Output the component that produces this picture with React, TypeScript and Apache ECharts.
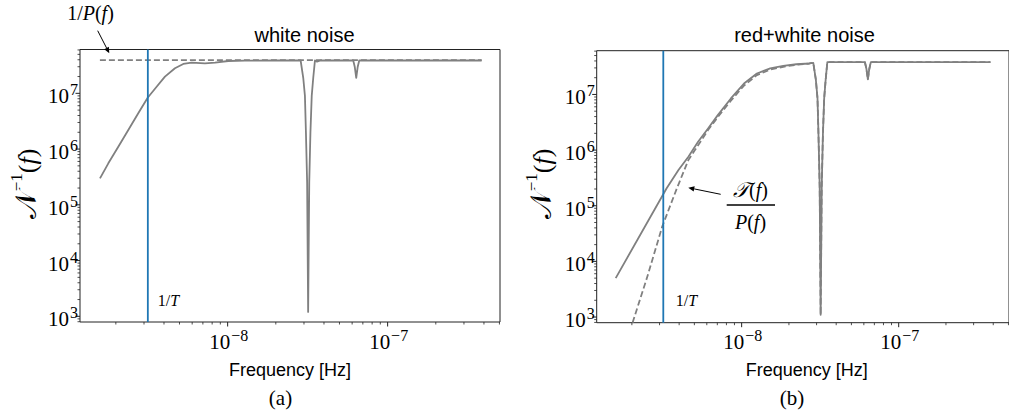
import React, { useEffect, useRef } from 'react';
import * as echarts from 'echarts';

// ---------- data ----------
// panel (a): white noise
const whiteFreq = [1.592e-9, 1.795e-9, 2.072e-9, 2.393e-9, 2.762e-9, 3.162e-9, 3.597e-9, 4.055e-9, 4.684e-9, 5.278e-9, 5.957e-9, 7.21e-9, 8.34e-9, 1.009e-8, 1.283e-8, 2.0e-8, 2.859e-8, 2.968e-8, 3.041e-8, 3.085e-8, 3.139e-8, 3.185e-8, 3.236e-8, 3.292e-8, 3.354e-8, 3.428e-8, 3.513e-8, 3.62e-8, 3.8e-8, 6.095e-8, 6.228e-8, 6.364e-8, 6.503e-8, 6.645e-8, 3.87e-7];
const whiteInvN = [2.98e5, 5.55e5, 1.10e6, 2.20e6, 4.38e6, 8.34e6, 1.31e7, 1.99e7, 2.81e7, 3.36e7, 3.54e7, 3.45e7, 3.54e7, 3.8e7, 3.85e7, 3.88e7, 3.88e7, 1.9e7, 9e6, 2e6, 2.5e5, 1.2e3, 2.5e5, 2e6, 9e6, 1.9e7, 3.88e7, 3.7e7, 3.88e7, 3.88e7, 3.0e7, 1.9e7, 3.0e7, 3.88e7, 3.88e7];
const whiteInvPFreq = [1.59e-9, 3.87e-7];
const whiteInvP = [3.93e7, 3.93e7];

// panel (b): red + white noise
const redFreq = [1.578e-9, 3.33e-9, 3.96e-9, 4.58e-9, 5.28e-9, 6.11e-9, 7.05e-9, 8.54e-9, 1.035e-8, 1.25e-8, 1.52e-8, 1.84e-8, 2.23e-8, 2.70e-8, 2.859e-8, 2.968e-8, 3.041e-8, 3.085e-8, 3.139e-8, 3.185e-8, 3.236e-8, 3.292e-8, 3.354e-8, 3.428e-8, 3.513e-8, 3.8e-8, 6.095e-8, 6.228e-8, 6.364e-8, 6.503e-8, 6.645e-8, 3.84e-7];
const redInvN = [5.01e3, 2.06e5, 4.38e5, 7.6e5, 1.41e6, 2.45e6, 4.25e6, 8.47e6, 1.57e7, 2.38e7, 2.93e7, 3.26e7, 3.49e7, 3.6e7, 3.7e7, 1.85e7, 8.5e6, 1.9e6, 2.3e5, 1.1e3, 2.3e5, 1.9e6, 8.5e6, 1.85e7, 3.8e7, 3.8e7, 3.8e7, 2.9e7, 1.86e7, 2.9e7, 3.8e7, 3.8e7];
const redTFreq = [2.02e-9, 2.51e-9, 3.12e-9, 3.87e-9, 4.58e-9, 5.04e-9, 6.11e-9, 7.05e-9, 8.54e-9, 1.035e-8, 1.25e-8, 1.52e-8, 1.84e-8, 2.23e-8, 2.70e-8, 2.859e-8, 2.968e-8, 3.041e-8, 3.085e-8, 3.139e-8, 3.185e-8, 3.236e-8, 3.292e-8, 3.354e-8, 3.428e-8, 3.513e-8, 3.8e-8, 6.095e-8, 6.228e-8, 6.364e-8, 6.503e-8, 6.645e-8, 3.84e-7];
const redTOverP = [790, 5.35e3, 4.22e4, 2.06e5, 6.64e5, 1.0e6, 2.29e6, 3.92e6, 7.74e6, 1.44e7, 2.22e7, 2.79e7, 3.14e7, 3.42e7, 3.6e7, 3.7e7, 1.85e7, 8.5e6, 1.9e6, 2.3e5, 1.1e3, 2.3e5, 1.9e6, 8.5e6, 1.85e7, 3.8e7, 3.8e7, 3.8e7, 2.9e7, 1.86e7, 2.9e7, 3.8e7, 3.8e7];

// 1/T marker
const oneOverT = 3.17e-9;

// axes
const xMajorTicks = [1e-8, 1e-7];
const yMajorTicks = [1e3, 1e4, 1e5, 1e6, 1e7];
const minorMultipliers = [2, 3, 4, 5, 6, 7, 8, 9];
const xDecades = [1e-9, 1e-8, 1e-7];
const yDecades = [1e2, 1e3, 1e4, 1e5, 1e6, 1e7];
const xRange = [1.194e-9, 5.04e-7];
const yRange = [791, 6.11e7];

const panelTitles = ['white noise', 'red+white noise'];
const xName = 'Frequency [Hz]';
const captions = ['(a)', '(b)'];

// ---------- styles ----------
const SERIF = '"Liberation Serif", "DejaVu Serif", serif';
const SANS = '"Liberation Sans", Arial, sans-serif';
const MATH = '"DejaVu Sans", "DejaVu Serif", "Noto Sans", serif';
const GRAY = '#808080';
const BLUE = '#1f77b4';
const AX = '#222';

const zip = (a: number[], b: number[]) => a.map((v, i) => [v, b[i]]);

function tickData() {
  const out: number[][] = [];
  xMajorTicks.forEach((v) => out.push([v, yRange[0], 0]));
  xDecades.forEach((d) => minorMultipliers.forEach((m) => {
    const v = d * m;
    if (v > xRange[0] && v < xRange[1]) out.push([v, yRange[0], 1]);
  }));
  yMajorTicks.forEach((v) => out.push([xRange[0], v, 2]));
  yDecades.forEach((d) => minorMultipliers.forEach((m) => {
    const v = d * m;
    if (v > yRange[0] && v < yRange[1]) out.push([xRange[0], v, 3]);
  }));
  return out;
}

const supRich = {
  b: { fontSize: 21, fontFamily: SERIF, lineHeight: 25, verticalAlign: 'bottom', fill: '#000' },
  s: { fontSize: 16, fontFamily: SERIF, lineHeight: 13, verticalAlign: 'top', fill: '#000', padding: [0, 0, 0, 1] },
};

function tickRender(params: any, api: any) {
  const kind = api.value(2);
  const v = kind < 2 ? api.value(0) : api.value(1);
  const p = api.coord([api.value(0), api.value(1)]);
  const isX = kind < 2;
  const major = kind % 2 === 0;
  const len = major ? 4.5 : 2.5;
  const children: any[] = [
    {
      type: 'line',
      shape: isX
        ? { x1: p[0], y1: p[1], x2: p[0], y2: p[1] + len }
        : { x1: p[0] - len, y1: p[1], x2: p[0], y2: p[1] },
      style: { stroke: AX, lineWidth: major ? 1 : 0.8 },
    },
  ];
  if (major) {
    const e = Math.round(Math.log10(v));
    const expText = e < 0 ? '\u2212' + Math.abs(e) : String(e);
    children.push({
      type: 'text',
      x: isX ? p[0] + 1 : p[0] - 2,
      y: isX ? p[1] + 5 : p[1] + 1,
      style: {
        text: '{b|10}{s|' + expText + '}',
        rich: supRich,
        align: isX ? 'center' : 'right',
        verticalAlign: isX ? 'top' : 'middle',
      },
    });
  }
  return { type: 'group', children };
}

function arrow(x1: number, y1: number, x2: number, y2: number) {
  const dx = x2 - x1, dy = y2 - y1;
  const L = Math.hypot(dx, dy);
  const ux = dx / L, uy = dy / L;
  const hl = 6, hw = 2.6;
  const bx = x2 - ux * hl, by = y2 - uy * hl;
  const nx = -uy, ny = ux;
  return [
    { type: 'line', shape: { x1, y1, x2: bx, y2: by }, style: { stroke: '#000', lineWidth: 1 } },
    {
      type: 'polygon',
      shape: { points: [[x2, y2], [bx + nx * hw, by + ny * hw], [bx - nx * hw, by - ny * hw]] },
      style: { fill: '#000' },
    },
  ];
}

const italicRich = {
  r: { fontSize: 20, fontFamily: SERIF, fill: '#000' },
  i: { fontSize: 20, fontFamily: SERIF, fontStyle: 'italic', fill: '#000' },
  m: { fontSize: 21, fontFamily: MATH, fontStyle: 'italic', fill: '#000' },
};

const ylabelRich = {
  n: { fontSize: 29, fontFamily: MATH, lineHeight: 32, verticalAlign: 'bottom', fill: '#000' },
  s: { fontSize: 17, fontFamily: SERIF, lineHeight: 18, verticalAlign: 'top', fill: '#000' },
  p: { fontSize: 26, fontFamily: SERIF, lineHeight: 32, verticalAlign: 'bottom', fill: '#000' },
  i: { fontSize: 26, fontFamily: SERIF, fontStyle: 'italic', lineHeight: 32, verticalAlign: 'bottom', fill: '#000' },
};

export default function App() {
  const ref = useRef<HTMLDivElement>(null);
  useEffect(() => {
    if (!ref.current) return;
    const chart = echarts.init(ref.current, null, { renderer: 'svg' });
    const axisCommon = {
      type: 'log' as const,
      axisLine: { show: false },
      axisTick: { show: false },
      axisLabel: { show: false },
      splitLine: { show: false },
    };
    const grids = [
      { left: 80, top: 49.5, width: 420, height: 272.5 },
      { left: 596.7, top: 50.7, width: 420, height: 272 },
    ];
    const mkLine = (idx: number, fx: number[], fy: number[], dashed: boolean, z: number) => ({
      type: 'line', xAxisIndex: idx, yAxisIndex: idx, data: zip(fx, fy), showSymbol: false, symbol: 'none',
      lineStyle: { color: GRAY, width: 1.8, type: dashed ? [6, 3] : 'solid', join: 'round' }, z, silent: true,
    });
    const blueLine = (idx: number) => ({
      type: 'line', xAxisIndex: idx, yAxisIndex: idx, showSymbol: false, symbol: 'none', z: 10, silent: true,
      data: [[oneOverT, yRange[0]], [oneOverT, yRange[1]]],
      lineStyle: { color: BLUE, width: 1.8 },
    });
    const tickSeries = (idx: number) => ({
      type: 'custom', xAxisIndex: idx, yAxisIndex: idx, data: tickData(), renderItem: tickRender,
      silent: true, clip: false, z: 20,
    });

    const graphic: any[] = [];
    const titleX = [304.5, 804.5];
    panelTitles.forEach((t, i) => graphic.push({
      type: 'text', x: titleX[i], y: 34.5,
      style: { text: t, fontSize: 20, fontFamily: SANS, fill: '#000', align: 'center', verticalAlign: 'middle' },
    }));
    const xNameX = [290, 806.7];
    xNameX.forEach((x) => graphic.push({
      type: 'text', x, y: 369.5,
      style: { text: xName, fontSize: 18, fontFamily: SANS, fill: '#000', align: 'center', verticalAlign: 'middle' },
    }));
    const capX = [280.5, 792];
    captions.forEach((c, i) => graphic.push({
      type: 'text', x: capX[i], y: 398,
      style: { text: c, fontSize: 21, fontFamily: SERIF, fill: '#000', align: 'center', verticalAlign: 'middle' },
    }));
    const ylabX = [24, 539];
    ylabX.forEach((x) => graphic.push({
      type: 'text', x, y: 184, rotation: Math.PI / 2,
      style: {
        text: '{n|\u{1D4A9}}{s|\u22121}{p|(}{i|f}{p|)}', rich: ylabelRich,
        align: 'center', verticalAlign: 'middle',
      },
    }));
    // 1/P(f) annotation
    graphic.push({
      type: 'text', x: 90.5, y: 13,
      style: { text: '{r|1/}{i|P}{r|(}{i|f}{r|)}', rich: italicRich, align: 'center', verticalAlign: 'middle' },
    });
    graphic.push(...arrow(97.7, 30.7, 109.3, 53.3));
    // 1/T labels
    const tX = [168.5, 686.5];
    tX.forEach((x) => graphic.push({
      type: 'text', x, y: 300,
      style: {
        text: '{r|1/}{i|T}',
        rich: {
          r: { fontSize: 16, fontFamily: SERIF, fill: '#000' },
          i: { fontSize: 16, fontFamily: SERIF, fontStyle: 'italic', fill: '#000' },
        },
        align: 'center', verticalAlign: 'middle',
      },
    }));
    // T(f)/P(f) annotation
    graphic.push(...arrow(720.7, 194.3, 688.3, 187.7));
    graphic.push({
      type: 'text', x: 750.5, y: 190,
      style: { text: '{m|\u{1D4AF}}{r|(}{i|f}{r|)}', rich: italicRich, align: 'center', verticalAlign: 'middle' },
    });
    graphic.push({ type: 'rect', shape: { x: 726.7, y: 204.3, width: 48.3, height: 1.4 }, style: { fill: '#000' } });
    graphic.push({
      type: 'text', x: 750.5, y: 221.5,
      style: { text: '{i|P}{r|(}{i|f}{r|)}', rich: italicRich, align: 'center', verticalAlign: 'middle' },
    });

    chart.setOption({
      animation: false,
      backgroundColor: '#fff',
      grid: grids.map((g) => ({ ...g, show: true, borderColor: AX, borderWidth: 1, backgroundColor: 'transparent' })),
      xAxis: [0, 1].map((i) => ({ ...axisCommon, gridIndex: i, min: xRange[0], max: xRange[1] })),
      yAxis: [0, 1].map((i) => ({ ...axisCommon, gridIndex: i, min: yRange[0], max: yRange[1] })),
      series: [
        mkLine(0, whiteInvPFreq, whiteInvP, true, 3),
        mkLine(0, whiteFreq, whiteInvN, false, 4),
        blueLine(0),
        tickSeries(0),
        mkLine(1, redTFreq, redTOverP, true, 3),
        mkLine(1, redFreq, redInvN, false, 4),
        blueLine(1),
        tickSeries(1),
      ],
      graphic,
    });
    return () => chart.dispose();
  }, []);
  return (
    <div
      ref={ref}
      style={{ position: 'absolute', left: 0, top: 0, width: 1009, height: 415, overflow: 'hidden' }}
    />
  );
}
